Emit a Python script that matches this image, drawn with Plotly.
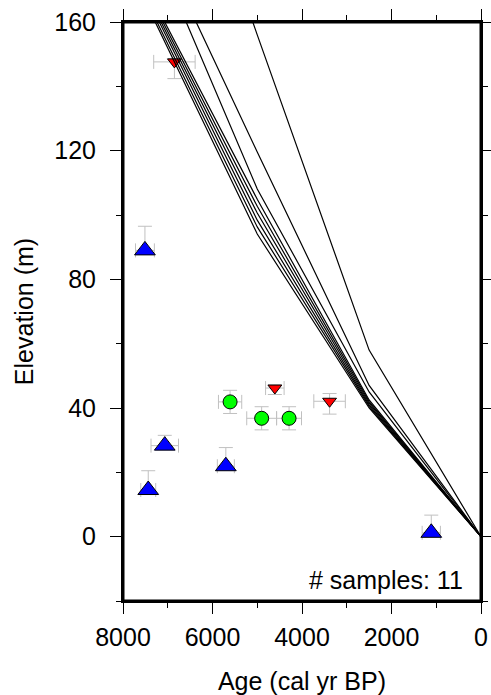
import plotly.graph_objects as go

# ---- sample data (age in cal yr BP, elevation in m) ----
blue_age = [7510, 7067, 7436, 5702, 1111]
blue_elev = [89.0, 28.3, 14.5, 21.9, 1.2]
blue_age_err = [211, 307, 167, 190, 204]
blue_elev_up = [7.5, 3.2, 6.0, 5.8, 5.5]
blue_elev_down = [0.5, 0.5, 0.5, 0.5, 0.5]

green_age = [5607, 4902, 4289]
green_elev = [41.9, 36.8, 36.8]
green_age_err = [260, 333, 278]
green_elev_err = [3.6, 3.6, 3.6]

red_age = [4607, 3384, 6851]
red_elev = [46.2, 42.1, 147.6]
red_age_err = [207, 352, 463]
red_elev_up = [1.0, 2.4, 1.0]
red_elev_down = [2.0, 4.0, 5.2]

# ---- model curves ----
line_ages = [0, 2500, 5000, 8000]
model_1 = [0, 40.0, 94.1, 180.8]
model_2 = [0, 40.5, 96.3, 181.6]
model_3 = [0, 41.0, 98.4, 182.8]
model_4 = [0, 41.5, 100.6, 183.5]
model_5 = [0, 42.0, 102.7, 184.2]
model_6 = [0, 42.5, 104.9, 184.8]
model_7 = [0, 45.0, 108.1, 206.1]
model_8 = [0, 47.0, 119.6, 208.3]
model_9 = [0, 58.0, 156.0, 276.0]
models = [model_1, model_2, model_3, model_4, model_5, model_6,
          model_7, model_8, model_9]

x_ticks = [8000, 6000, 4000, 2000, 0]
y_ticks = [0, 40, 80, 120, 160]
n_samples = 11

FONT = "Liberation Sans, Arial, Helvetica, sans-serif"
ERR = "#c0c0c0"
FS = 25

fig = go.Figure()

fig.add_trace(go.Scatter(
    x=blue_age, y=blue_elev, mode="markers",
    marker=dict(symbol="triangle-up", size=18, color="#0000ff",
                line=dict(color="black", width=1)),
    error_x=dict(type="data", array=blue_age_err, color=ERR, thickness=1, width=7),
    error_y=dict(type="data", array=blue_elev_up, arrayminus=blue_elev_down,
                 symmetric=False, color=ERR, thickness=1, width=7),
    showlegend=False, cliponaxis=False))

fig.add_trace(go.Scatter(
    x=green_age, y=green_elev, mode="markers",
    marker=dict(symbol="circle", size=14, color="#00ff00",
                line=dict(color="black", width=1)),
    error_x=dict(type="data", array=green_age_err, color=ERR, thickness=1, width=7),
    error_y=dict(type="data", array=green_elev_err, color=ERR, thickness=1, width=7),
    showlegend=False, cliponaxis=False))

fig.add_trace(go.Scatter(
    x=red_age, y=red_elev, mode="markers",
    marker=dict(symbol="triangle-down", size=12, color="#ff0000",
                line=dict(color="black", width=1)),
    error_x=dict(type="data", array=red_age_err, color=ERR, thickness=1, width=7),
    error_y=dict(type="data", array=red_elev_up, arrayminus=red_elev_down,
                 symmetric=False, color=ERR, thickness=1, width=7),
    showlegend=False, cliponaxis=False))

for m in models:
    fig.add_trace(go.Scatter(x=line_ages, y=m, mode="lines",
                             line=dict(color="black", width=1.2),
                             showlegend=False, hoverinfo="skip"))

axis_common = dict(
    showline=True, linecolor="black", linewidth=2, mirror="allticks",
    ticks="outside", ticklen=11, tickwidth=1, tickcolor="black",
    showgrid=False, zeroline=False, automargin=False,
    ticklabeloverflow="allow",
    tickfont=dict(family=FONT, size=FS, color="black"),
)

fig.update_xaxes(
    range=[8000, 0], tickvals=x_ticks, ticktext=[str(v) for v in x_ticks],
    minor=dict(dtick=1000, tick0=0, ticks="outside", ticklen=5, tickwidth=1,
               tickcolor="black", showgrid=False),
    ticklabelstandoff=2,
    title=dict(text="Age (cal yr BP)", font=dict(family=FONT, size=FS, color="black"),
               standoff=24),
    **axis_common)
fig.update_yaxes(
    range=[-20, 160], tickvals=y_ticks, ticktext=[str(v) for v in y_ticks],
    minor=dict(dtick=20, tick0=0, ticks="outside", ticklen=5, tickwidth=1,
               tickcolor="black", showgrid=False),
    ticklabelstandoff=9,
    title=dict(text="Elevation (m)", font=dict(family=FONT, size=FS, color="black"),
               standoff=14),
    **axis_common)

# plot frame, drawn as four edges
for (x0, y0, x1, y1) in [(0, 0, 1, 0), (0, 1, 1, 1), (0, 0, 0, 1), (1, 0, 1, 1)]:
    fig.add_shape(type="line", xref="paper", yref="paper",
                  x0=x0, y0=y0, x1=x1, y1=y1,
                  line=dict(color="black", width=3), layer="above")

fig.add_annotation(text=f"# samples: {n_samples}", xref="paper", yref="paper",
                   x=0.955, y=0.036, xanchor="right", yanchor="middle",
                   showarrow=False, font=dict(family=FONT, size=FS, color="black"))

fig.update_layout(
    width=491, height=695,
    margin=dict(l=123, r=10, t=22, b=94, pad=0, autoexpand=False),
    plot_bgcolor="white", paper_bgcolor="white",
    font=dict(family=FONT, size=FS, color="black"),
)

# remove the default page margin so the figure fills the window exactly
fig.write_html(
    "out.html",
    config={"displayModeBar": False},
    post_script=("document.documentElement.style.margin='0';"
                 "document.body.style.margin='0';"
                 "document.documentElement.style.overflow='hidden';"
                 "document.body.style.overflow='hidden';"),
)
